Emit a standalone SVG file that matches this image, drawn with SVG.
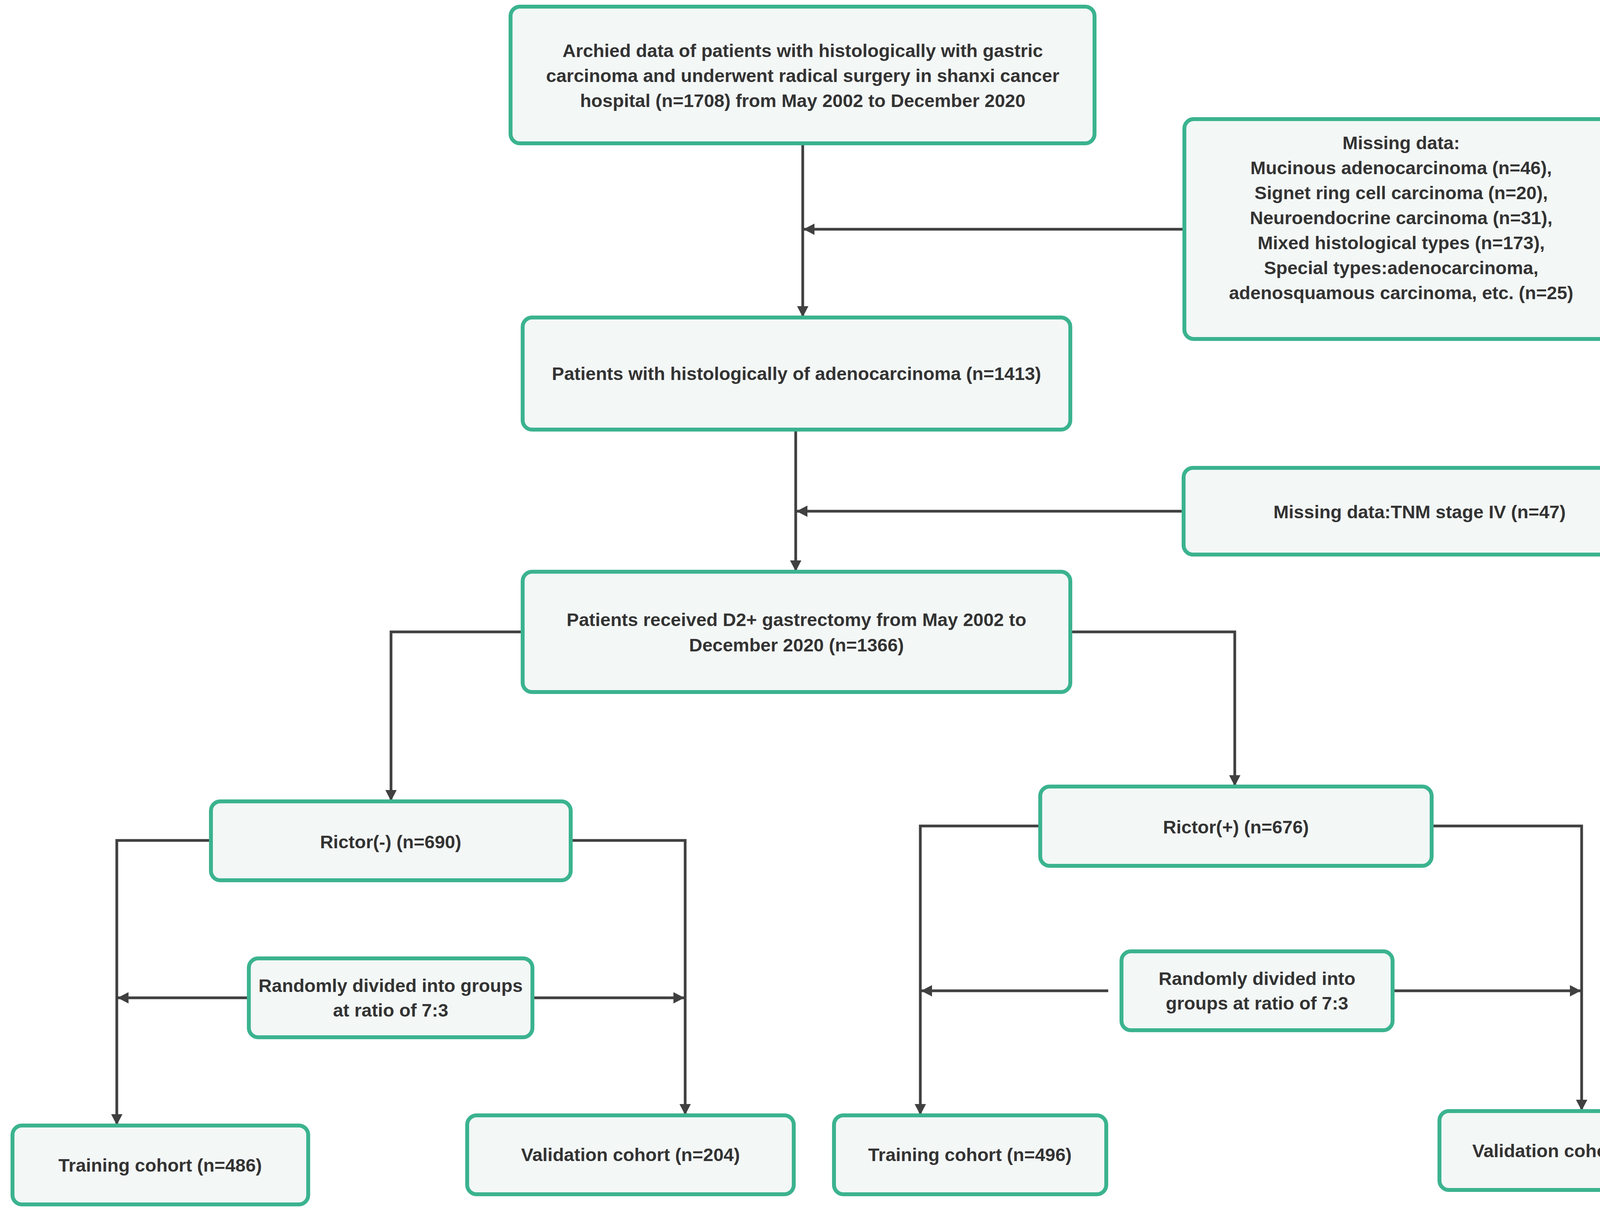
<svg xmlns="http://www.w3.org/2000/svg" width="4432" height="3106" viewBox="0 0 4432 3106">
<style>
.box{fill:#f3f7f6;stroke:#3bb38f;stroke-width:10}
.t{font-family:"Liberation Sans",Arial,sans-serif;font-weight:bold;font-size:47px;fill:#333333;text-anchor:middle}
.c{fill:none;stroke:#404040;stroke-width:7}
</style>
<defs>
<marker id="ah" markerUnits="userSpaceOnUse" markerWidth="30" markerHeight="30" refX="28" refY="14.5" orient="auto">
<path d="M0,0 L28,14.5 L0,29 z" fill="#404040"/>
</marker>
</defs>
<rect width="4432" height="3106" fill="#ffffff"/>
<g id="connectors">
<path class="c" d="M2055,372 V812" marker-end="url(#ah)"/>
<path class="c" d="M3027,587 H2057" marker-end="url(#ah)"/>
<path class="c" d="M2037,1105 V1463" marker-end="url(#ah)"/>
<path class="c" d="M3025,1309 H2039" marker-end="url(#ah)"/>
<path class="c" d="M1333,1618 H1001 V2051" marker-end="url(#ah)"/>
<path class="c" d="M2745,1618 H3161 V2013" marker-end="url(#ah)"/>
<path class="c" d="M535,2152 H299 V2881" marker-end="url(#ah)"/>
<path class="c" d="M1466,2152 H1754 V2855" marker-end="url(#ah)"/>
<path class="c" d="M632,2555 H301" marker-end="url(#ah)"/>
<path class="c" d="M1368,2555 H1752" marker-end="url(#ah)"/>
<path class="c" d="M2658,2115 H2356 V2855" marker-end="url(#ah)"/>
<path class="c" d="M3670,2115 H4049 V2844" marker-end="url(#ah)"/>
<path class="c" d="M2837,2537 H2358" marker-end="url(#ah)"/>
<path class="c" d="M3570,2537 H4047" marker-end="url(#ah)"/>
</g>
<g id="n1">
<rect class="box" x="1307" y="17" width="1495" height="350" rx="24"/>
<text class="t" x="2055" y="146">Archied data of patients with histologically with gastric</text>
<text class="t" x="2055" y="210">carcinoma and underwent radical surgery in shanxi cancer</text>
<text class="t" x="2055" y="274">hospital (n=1708) from May 2002 to December 2020</text>
</g>
<g id="n2">
<rect class="box" x="3032" y="305" width="1111" height="563" rx="24"/>
<text class="t" x="3587" y="382">Missing data:</text>
<text class="t" x="3587" y="446">Mucinous adenocarcinoma (n=46),</text>
<text class="t" x="3587" y="510">Signet ring cell carcinoma (n=20),</text>
<text class="t" x="3587" y="574">Neuroendocrine carcinoma (n=31),</text>
<text class="t" x="3587" y="638">Mixed histological types (n=173),</text>
<text class="t" x="3587" y="702">Special types:adenocarcinoma,</text>
<text class="t" x="3587" y="766">adenosquamous carcinoma, etc. (n=25)</text>
</g>
<g id="n3">
<rect class="box" x="1338" y="813" width="1402" height="287" rx="24"/>
<text class="t" x="2039" y="973">Patients with histologically of adenocarcinoma (n=1413)</text>
</g>
<g id="n4">
<rect class="box" x="3030" y="1198" width="1209" height="222" rx="24"/>
<text class="t" x="3634" y="1327">Missing data:TNM stage IV (n=47)</text>
</g>
<g id="n5">
<rect class="box" x="1338" y="1464" width="1402" height="308" rx="24"/>
<text class="t" x="2039" y="1603">Patients received D2+ gastrectomy from May 2002 to</text>
<text class="t" x="2039" y="1668">December 2020 (n=1366)</text>
</g>
<g id="n6">
<rect class="box" x="540" y="2052" width="921" height="202" rx="24"/>
<text class="t" x="1000" y="2172">Rictor(-) (n=690)</text>
</g>
<g id="n7">
<rect class="box" x="637" y="2454" width="726" height="202" rx="24"/>
<text class="t" x="1000" y="2540">Randomly divided into groups</text>
<text class="t" x="1000" y="2603">at ratio of 7:3</text>
</g>
<g id="n8">
<rect class="box" x="2663" y="2014" width="1002" height="203" rx="24"/>
<text class="t" x="3164" y="2134">Rictor(+) (n=676)</text>
</g>
<g id="n9">
<rect class="box" x="2871" y="2436" width="694" height="202" rx="24"/>
<text class="t" x="3218" y="2522">Randomly divided into</text>
<text class="t" x="3218" y="2585">groups at ratio of 7:3</text>
</g>
<g id="n10">
<rect class="box" x="32" y="2882" width="757" height="202" rx="24"/>
<text class="t" x="410" y="3000">Training cohort (n=486)</text>
</g>
<g id="n11">
<rect class="box" x="1196" y="2856" width="836" height="202" rx="24"/>
<text class="t" x="1614" y="2973">Validation cohort (n=204)</text>
</g>
<g id="n12">
<rect class="box" x="2135" y="2856" width="697" height="202" rx="24"/>
<text class="t" x="2483" y="2973">Training cohort (n=496)</text>
</g>
<g id="n13">
<rect class="box" x="3685" y="2845" width="728" height="202" rx="24"/>
<text class="t" x="4049" y="2963">Validation cohort (n=180)</text>
</g>
</svg>
